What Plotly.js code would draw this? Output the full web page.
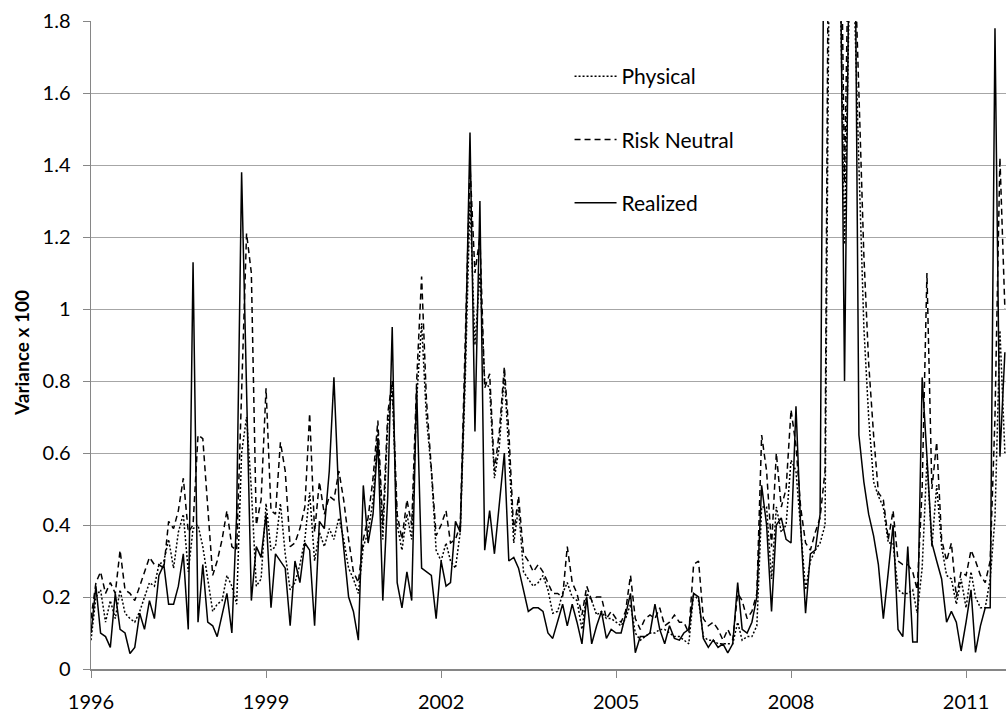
<!DOCTYPE html>
<html>
<head>
<meta charset="utf-8">
<script src="https://cdn.plot.ly/plotly-3.0.1.min.js"></script>
<style>
html,body{margin:0;padding:0;background:#fff;}
#chart{width:1006px;height:711px;}
</style>
</head>
<body>
<div id="chart"></div>
<script>
// Monthly series, Jan 1996 onward (one row per year)
const physical = [
0.08,0.20,0.22,0.13,0.19,0.14,0.22,0.155,0.14,0.13,0.16,0.20,
0.24,0.23,0.29,0.30,0.36,0.28,0.38,0.43,0.27,0.39,0.40,0.34,
0.25,0.16,0.18,0.19,0.26,0.23,0.18,0.60,0.70,0.50,0.23,0.25,
0.46,0.33,0.34,0.46,0.32,0.22,0.24,0.29,0.36,0.49,0.30,0.38,
0.34,0.39,0.36,0.42,0.36,0.28,0.25,0.21,0.34,0.38,0.47,0.66,
0.36,0.68,0.78,0.40,0.33,0.43,0.36,0.75,0.96,0.70,0.55,0.33,
0.30,0.35,0.30,0.28,0.38,0.80,1.30,0.90,1.10,0.80,0.78,0.53,
0.62,0.82,0.60,0.35,0.45,0.27,0.25,0.23,0.24,0.26,0.22,0.155,
0.16,0.21,0.24,0.20,0.19,0.11,0.21,0.19,0.15,0.16,0.14,0.14,
0.13,0.12,0.14,0.18,0.10,0.08,0.09,0.10,0.10,0.11,0.11,0.10,
0.09,0.09,0.08,0.07,0.21,0.19,0.09,0.08,0.08,0.07,0.07,0.07,
0.07,0.13,0.08,0.09,0.09,0.12,0.45,0.45,0.25,0.45,0.38,0.40,
0.58,0.55,0.38,0.22,0.30,0.33,0.35,0.40,2.3,2.6,2.0,1.18,
1.9,1.85,1.40,0.95,0.70,0.52,0.48,0.45,0.35,0.35,0.22,0.21,
0.21,0.22,0.155,0.28,0.58,0.34,0.51,0.34,0.26,0.25,0.18,0.25,
0.17,0.27,0.20,0.17,0.17,0.25,0.42,0.94,0.60
];
const riskNeutral = [
0.14,0.24,0.27,0.21,0.24,0.21,0.33,0.22,0.21,0.19,0.23,0.27,
0.31,0.29,0.29,0.28,0.41,0.39,0.44,0.53,0.38,0.40,0.65,0.64,
0.45,0.26,0.30,0.36,0.44,0.34,0.33,0.80,1.21,1.10,0.40,0.47,
0.78,0.44,0.43,0.63,0.55,0.34,0.35,0.39,0.45,0.71,0.38,0.52,
0.43,0.48,0.47,0.55,0.47,0.36,0.27,0.24,0.36,0.42,0.53,0.69,
0.40,0.71,0.80,0.43,0.36,0.47,0.40,0.80,1.09,0.75,0.55,0.37,
0.40,0.44,0.35,0.36,0.40,0.90,1.40,1.10,1.20,0.78,0.82,0.55,
0.66,0.84,0.66,0.38,0.48,0.32,0.30,0.27,0.29,0.27,0.24,0.21,
0.21,0.20,0.34,0.24,0.21,0.15,0.23,0.19,0.20,0.20,0.14,0.16,
0.14,0.13,0.16,0.26,0.14,0.11,0.14,0.15,0.14,0.17,0.12,0.13,
0.15,0.13,0.13,0.10,0.29,0.30,0.14,0.12,0.13,0.11,0.08,0.11,
0.08,0.21,0.19,0.14,0.16,0.21,0.65,0.55,0.34,0.60,0.45,0.50,
0.72,0.62,0.45,0.35,0.33,0.38,0.42,0.55,2.8,3.0,2.4,1.35,
2.2,2.0,1.6,1.15,0.85,0.65,0.49,0.47,0.36,0.44,0.30,0.29,
0.29,0.27,0.22,0.50,1.10,0.50,0.63,0.36,0.30,0.35,0.20,0.27,
0.26,0.33,0.30,0.26,0.24,0.30,0.70,1.42,1.00
];
const realized = [
0.10,0.23,0.10,0.09,0.06,0.21,0.11,0.10,0.043,0.06,0.155,0.11,
0.19,0.14,0.26,0.29,0.18,0.18,0.23,0.32,0.11,1.13,0.13,0.29,
0.13,0.12,0.09,0.155,0.21,0.10,0.43,1.38,0.78,0.19,0.34,0.31,
0.43,0.17,0.32,0.30,0.28,0.12,0.30,0.24,0.35,0.33,0.12,0.41,
0.39,0.55,0.81,0.47,0.34,0.20,0.16,0.08,0.51,0.35,0.43,0.64,
0.19,0.48,0.95,0.24,0.17,0.27,0.19,0.78,0.28,0.27,0.26,0.14,
0.30,0.23,0.24,0.41,0.38,0.85,1.49,0.66,1.30,0.33,0.44,0.32,
0.46,0.60,0.30,0.31,0.28,0.22,0.16,0.17,0.17,0.16,0.10,0.085,
0.13,0.18,0.12,0.18,0.13,0.07,0.20,0.07,0.12,0.16,0.085,0.11,
0.10,0.10,0.15,0.21,0.045,0.09,0.09,0.10,0.18,0.11,0.07,0.12,
0.085,0.08,0.10,0.11,0.21,0.20,0.085,0.06,0.08,0.06,0.07,0.045,
0.07,0.24,0.11,0.10,0.13,0.20,0.51,0.40,0.16,0.40,0.42,0.36,
0.35,0.73,0.40,0.155,0.32,0.33,0.43,2.6,3.2,2.8,2.2,0.80,
2.1,2.3,0.65,0.52,0.43,0.37,0.29,0.14,0.27,0.40,0.11,0.09,
0.34,0.075,0.075,0.81,0.59,0.35,0.30,0.25,0.13,0.16,0.13,0.05,
0.13,0.22,0.046,0.12,0.17,0.17,1.78,0.59,0.88
];
const startYear = 1996;
const tickYears = ['1996','1999','2002','2005','2008','2011'];
const yTicks = [0,0.2,0.4,0.6,0.8,1,1.2,1.4,1.6,1.8];
const seriesNames = ['Physical','Risk Neutral','Realized'];

const months = realized.map((_, i) => {
  const y = startYear + Math.floor(i / 12);
  const m = (i % 12) + 1;
  return y + '-' + (m < 10 ? '0' + m : m) + '-01';
});

const FONT = 'Lato, "Open Sans", sans-serif';
const mk = (name, ys, dash, grp) => ({
  type: 'scatter', mode: 'lines', name: name, x: months, y: ys,
  line: {color: '#000', width: 1.5, dash: dash},
  legendgroup: grp, hoverinfo: 'skip'
});

const traces = [
  mk(seriesNames[0], physical, '2px,2px', 'a'),
  mk(seriesNames[1], riskNeutral, '6px,4px', 'b'),
  mk(seriesNames[2], realized, 'solid', 'c')
];

const layout = {
  width: 1006, height: 711,
  margin: {l: 91, r: 0, t: 21, b: 42},
  paper_bgcolor: '#fff', plot_bgcolor: '#fff',
  font: {family: FONT, size: 20, color: '#000'},
  showlegend: true,
  legend: {
    x: 0.523, y: 0.946, xanchor: 'left', yanchor: 'top',
    bgcolor: 'rgba(0,0,0,0)', borderwidth: 0,
    font: {family: FONT, size: 21, color: '#000'},
    traceorder: 'grouped', tracegroupgap: 33,
    itemwidth: 42
  },
  xaxis: {
    type: 'date',
    range: ['1996-01-01', '2011-09-08'],
    tickmode: 'array',
    tickvals: tickYears.map(y => y + '-01-01'),
    ticktext: tickYears,
    ticks: 'outside', ticklen: 7, tickcolor: '#868686', tickwidth: 1,
    showline: true, linecolor: '#868686', linewidth: 1.5,
    showgrid: false, zeroline: false,
    ticklabelstandoff: 7,
    tickfont: {family: FONT, size: 20, color: '#000'}
  },
  yaxis: {
    range: [0, 1.8],
    tickmode: 'array', tickvals: yTicks, ticktext: yTicks.map(String),
    ticks: 'outside', ticklen: 7, tickcolor: '#868686', tickwidth: 1,
    showline: true, linecolor: '#868686', linewidth: 1.5,
    showgrid: true, gridcolor: '#a6a6a6', gridwidth: 1,
    zeroline: false,
    ticklabelstandoff: 8,
    tickfont: {family: FONT, size: 20, color: '#000'}
  },
  annotations: [{
    text: '<b>Variance x 100</b>', xref: 'paper', yref: 'paper',
    x: 0, y: 0.5, xanchor: 'center', yanchor: 'middle',
    xshift: -70, yshift: -8, textangle: -90, showarrow: false,
    font: {family: FONT, size: 19, color: '#000'}
  }]
};

Plotly.newPlot('chart', traces, layout, {displayModeBar: false, staticPlot: true});
</script>
</body>
</html>
